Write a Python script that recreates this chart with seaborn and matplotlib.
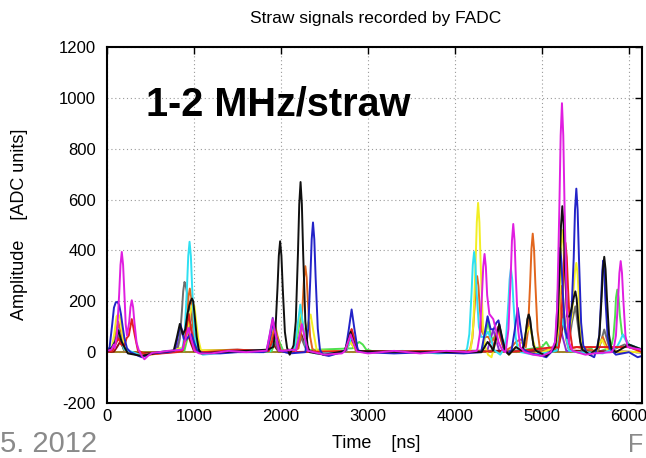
import matplotlib
matplotlib.use("Agg")
import matplotlib.pyplot as plt
import pandas as pd
import seaborn as sns

# ---------------- data (time [ns], amplitude [ADC units]) ----------------
magenta = [(0, 5), (50, 10), (80, 30), (90, 16), (115, 71), (140, 229), (155, 343), (170, 394), (185, 343),
           (200, 229), (215, 110), (230, 65), (255, 118), (270, 177), (285, 204), (300, 177), (315, 118),
           (340, 37), (365, 8), (400, -15), (430, -28), (470, -15), (520, -3), (600, 0), (700, 5), (820, 8),
           (870, 10), (900, 48), (935, 95), (970, 48), (1005, 5), (1060, -5), (1200, -5), (1400, 5), (1600, 0),
           (1800, 5), (1835, 6), (1870, 64), (1905, 128), (1940, 64), (1975, 6), (2020, 5), (2150, 10),
           (2170, 5), (2205, 55), (2240, 110), (2275, 55), (2310, 5), (2500, -10), (2700, -5), (2730, 3),
           (2765, 35), (2800, 70), (2835, 35), (2870, 3), (3000, -5), (3300, 5), (3600, -5), (3900, 5),
           (4150, 0), (4250, 5), (4260, 15), (4285, 70), (4310, 224), (4325, 336), (4340, 386), (4355, 336),
           (4370, 224), (4395, 150), (4440, 130), (4470, 90), (4500, 40), (4540, 10), (4580, 0), (4590, 20),
           (4615, 91), (4640, 292), (4655, 438), (4670, 504), (4685, 438), (4700, 292), (4725, 91), (4750, 20),
           (4800, 0), (4900, -10), (5000, -15), (5100, 0), (5150, 39), (5175, 176), (5200, 568), (5215, 852),
           (5230, 979), (5245, 852), (5260, 568), (5285, 176), (5310, 39), (5350, 5), (5400, 0), (5500, -10),
           (5600, -5), (5800, 0), (5825, 14), (5850, 64), (5875, 208), (5890, 311), (5905, 358), (5920, 311),
           (5935, 208), (5960, 64), (5985, 20), (6050, 15), (6150, 10)]
blue = [(0, 0), (30, 20), (60, 110), (80, 175), (100, 195), (120, 198), (140, 185), (160, 150), (180, 100),
        (200, 55), (230, 15), (270, 0), (330, -10), (400, -20), (460, -12), (520, -5), (700, 0), (775, 5),
        (810, 55), (845, 110), (880, 55), (900, 45), (935, 60), (970, 70), (1005, 35), (1040, 4), (1100, -3),
        (1300, -5), (1500, 0), (1800, 0), (1840, 6), (1875, 60), (1910, 120), (1945, 60), (1980, 6), (2100, -5),
        (2280, 0), (2288, 20), (2313, 92), (2338, 296), (2353, 444), (2368, 510), (2383, 444), (2398, 296),
        (2423, 92), (2448, 10), (2480, -10), (2550, -15), (2650, -5), (2742, 8), (2777, 84), (2812, 168),
        (2847, 84), (2882, 8), (2950, 0), (3300, -5), (3700, 0), (4100, -5), (4300, 0), (4305, 7), (4340, 70),
        (4375, 141), (4410, 90), (4445, 90), (4475, 115), (4500, 125), (4535, 62), (4570, 6), (4610, -5),
        (4652, 9), (4687, 87), (4722, 174), (4757, 87), (4792, 9), (4870, -5), (4950, -10), (5050, -20),
        (5120, 5), (5140, 20), (5160, 60), (5180, 210), (5195, 350), (5210, 410), (5225, 350), (5240, 230),
        (5265, 90), (5290, 55), (5315, 100), (5340, 160), (5365, 370), (5380, 560), (5395, 643), (5410, 560),
        (5425, 373), (5450, 116), (5475, 26), (5520, -5), (5600, -20), (5634, 18), (5659, 66), (5679, 200),
        (5694, 320), (5704, 360), (5714, 340), (5729, 211), (5754, 66), (5779, 15), (5850, -10), (6000, 0),
        (6100, -20), (6150, -15)]
cyan = [(0, 0), (60, 20), (95, 45), (130, 90), (165, 45), (200, 10), (300, 0), (400, -15), (600, 0), (850, 10),
        (869, 17), (894, 78), (919, 252), (934, 378), (949, 434), (964, 378), (979, 252), (1004, 78),
        (1029, 17), (1100, -10), (1400, 0), (1700, 5), (1870, 3), (1905, 30), (1940, 60), (1975, 30),
        (2010, 3), (2150, 10), (2152, 8), (2187, 94), (2222, 187), (2257, 94), (2292, 8), (2400, -5),
        (2742, 3), (2777, 30), (2812, 60), (2847, 30), (2882, 3), (2950, 0), (3400, 5), (3800, -5), (4120, 0),
        (4140, 16), (4165, 71), (4190, 229), (4205, 343), (4220, 394), (4235, 343), (4250, 229), (4275, 100),
        (4300, 60), (4340, 60), (4380, 80), (4415, 50), (4450, 8), (4520, -10), (4563, 13), (4588, 59),
        (4613, 191), (4628, 286), (4643, 329), (4658, 286), (4673, 191), (4698, 59), (4723, 13), (4760, 0),
        (4900, -10), (5100, 0), (5170, 6), (5205, 65), (5240, 130), (5275, 65), (5310, 6), (5400, 0),
        (5700, -5), (5860, 20), (5900, 45), (5930, 70), (5965, 45), (6000, 30), (6150, 10)]
black = [(0, 0), (60, 20), (96, 43), (131, 86), (166, 43), (200, 20), (240, -5), (400, -15), (600, 0), (767, 6),
         (802, 56), (837, 111), (872, 70), (900, 90), (925, 150), (946, 183), (961, 200), (976, 211), (991, 200),
         (1006, 150), (1031, 60), (1056, 10), (1080, -5), (1300, 0), (1600, 5), (1850, 10), (1910, 20),
         (1935, 79), (1960, 253), (1975, 379), (1990, 436), (2005, 379), (2020, 253), (2045, 79), (2070, 17),
         (2100, -10), (2145, 27), (2170, 120), (2195, 388), (2210, 582), (2225, 669), (2240, 582), (2255, 388),
         (2280, 120), (2305, 27), (2330, 0), (2500, -10), (2730, 4), (2765, 40), (2800, 80), (2835, 40),
         (2870, 4), (3500, 0), (4200, 0), (4305, 0), (4340, 20), (4375, 40), (4410, 25), (4439, 6), (4474, 55),
         (4509, 110), (4544, 55), (4579, 6), (4620, -10), (4700, 20), (4768, 6), (4793, 27), (4818, 86),
         (4833, 129), (4848, 148), (4863, 129), (4878, 86), (4903, 27), (4928, 6), (4960, 0), (5050, -15),
         (5150, 20), (5154, 23), (5179, 103), (5204, 333), (5219, 499), (5234, 574), (5249, 499), (5264, 333),
         (5289, 140), (5314, 140), (5339, 170), (5369, 220), (5384, 239), (5399, 210), (5414, 139), (5439, 43),
         (5464, 10), (5550, -10), (5636, 15), (5661, 68), (5686, 218), (5701, 326), (5716, 375), (5731, 326),
         (5746, 218), (5771, 68), (5796, 15), (5850, 0), (6000, 30), (6150, 10)]
gray = [(0, 0), (60, 10), (95, 35), (130, 70), (165, 35), (200, 5), (240, 0), (400, -10), (700, 0), (811, 11),
        (836, 50), (861, 160), (876, 240), (891, 276), (906, 260), (921, 230), (946, 180), (966, 150),
        (1000, 80), (1030, 25), (1060, 0), (1400, 5), (1830, 4), (1865, 35), (1900, 70), (1935, 35), (1970, 4),
        (2160, 3), (2195, 30), (2230, 60), (2265, 30), (2300, 3), (2400, 0), (2730, 2), (2765, 20), (2800, 40),
        (2835, 20), (2870, 2), (4430, 5), (4465, 50), (4500, 100), (4535, 50), (4570, 5), (4768, 6), (4793, 27),
        (4818, 87), (4833, 130), (4848, 150), (4863, 130), (4878, 87), (4903, 27), (4928, 6), (5171, 7),
        (5206, 75), (5241, 150), (5276, 75), (5311, 40), (5346, 120), (5384, 180), (5419, 90), (5454, 9),
        (5500, 0), (5646, 5), (5681, 45), (5716, 89), (5751, 45), (5786, 5), (5950, 30), (6150, 10)]
orange = [(0, 0), (60, 10), (95, 60), (130, 120), (165, 60), (200, 6), (400, -10), (700, 0), (872, 10),
          (897, 45), (922, 145), (937, 218), (952, 250), (967, 218), (982, 145), (1007, 45), (1032, 10),
          (1080, 0), (1860, 5), (1895, 55), (1930, 110), (1965, 55), (2000, 5), (2200, 14), (2225, 61),
          (2250, 196), (2265, 294), (2280, 338), (2295, 294), (2310, 196), (2335, 61), (2360, 14), (2400, 0),
          (2742, 4), (2777, 45), (2812, 90), (2847, 45), (2882, 4), (4150, 0), (4175, 12), (4200, 54),
          (4225, 173), (4240, 260), (4255, 299), (4270, 260), (4285, 173), (4310, 80), (4345, 60), (4380, 60),
          (4420, 40), (4465, 60), (4500, 80), (4535, 40), (4570, 4), (4650, 20), (4700, 40), (4750, 50),
          (4790, 45), (4814, 19), (4839, 84), (4864, 270), (4879, 405), (4894, 466), (4909, 405), (4924, 270),
          (4949, 84), (4974, 19), (5000, 0), (5150, 20), (5155, 13), (5180, 47), (5205, 151), (5215, 226),
          (5225, 260), (5240, 226), (5255, 151), (5280, 47), (5305, 13), (5400, 20), (5630, 3), (5665, 30),
          (5700, 60), (5735, 30), (5770, 3), (6150, 0)]
yellow = [(0, 0), (50, 8), (85, 75), (110, 140), (130, 150), (150, 135), (175, 75), (210, 8), (400, -15),
          (700, 0), (880, 20), (920, 60), (955, 150), (975, 180), (990, 190), (1005, 180), (1025, 120),
          (1050, 50), (1080, 8), (1860, 4), (1895, 40), (1930, 80), (1965, 40), (2000, 4), (2152, 8), (2187, 85),
          (2222, 169), (2257, 90), (2285, 90), (2306, 110), (2341, 148), (2376, 74), (2411, 7), (2730, 2),
          (2765, 20), (2800, 40), (2835, 20), (2870, 2), (4165, 0), (4186, 23), (4211, 106), (4236, 340),
          (4251, 511), (4266, 587), (4281, 511), (4296, 340), (4321, 106), (4346, 23), (4380, -10), (4420, -20),
          (4439, 5), (4474, 50), (4509, 100), (4544, 50), (4579, 5), (4620, -10), (4700, 20), (4790, 45),
          (4825, 80), (4860, 100), (4895, 50), (4930, 5), (4950, -10), (5150, 20), (5160, 20), (5185, 86),
          (5210, 278), (5225, 418), (5240, 480), (5255, 418), (5270, 278), (5295, 110), (5320, 100), (5345, 140),
          (5365, 250), (5380, 320), (5395, 351), (5410, 305), (5425, 204), (5450, 63), (5475, 14), (5550, -10),
          (5620, 3), (5655, 25), (5690, 50), (5725, 25), (5760, 3), (6150, 0)]
green = [(0, 0), (55, 6), (90, 55), (125, 110), (160, 55), (195, 6), (400, -10), (700, 0), (890, 6), (925, 55),
         (960, 110), (990, 100), (1020, 50), (1050, 8), (1090, 0), (1890, 3), (1925, 30), (1960, 60), (1995, 30),
         (2030, 3), (2160, 8), (2195, 75), (2230, 150), (2265, 75), (2300, 8), (2820, 15), (2860, 30), (2900, 40),
         (2940, 30), (2980, 10), (3100, 0), (4310, 6), (4345, 60), (4380, 120), (4415, 60), (4440, 50),
         (4465, 70), (4500, 90), (4535, 45), (4570, 5), (4620, 0), (5000, 20), (5050, 40), (5100, 10),
         (5171, 8), (5206, 83), (5241, 165), (5276, 83), (5311, 8), (5400, 0), (5500, -5), (5560, 20),
         (5600, -5), (5760, 15), (5801, 30), (5821, 60), (5841, 143), (5851, 214), (5866, 246), (5881, 214),
         (5896, 143), (5921, 70), (5950, 60), (6000, 30), (6150, 10)]
red = [(0, 0), (60, 5), (95, 28), (130, 55), (165, 30), (200, 25), (225, 55), (250, 65), (285, 130), (320, 65),
       (355, 7), (450, -10), (800, 0), (870, 7), (905, 75), (940, 150), (975, 75), (1010, 7), (1100, 0),
       (1500, 8), (1860, 4), (1895, 40), (1930, 80), (1965, 40), (2000, 4), (2050, 0), (2742, 4), (2777, 45),
       (2812, 90), (2847, 45), (2882, 4), (4430, 3), (4465, 50), (4500, 100), (4535, 50), (4570, 5), (4620, 0),
       (5150, 20), (5190, 17), (5215, 77), (5240, 249), (5255, 374), (5270, 430), (5285, 374), (5300, 249),
       (5325, 77), (5350, 17), (5400, 20), (5700, 20), (5900, 20), (6000, 20), (6150, 0)]
purple = [(0, 0), (60, 5), (95, 50), (130, 100), (165, 50), (200, 5), (400, -10), (750, 0), (790, 5), (825, 45),
          (860, 90), (895, 50), (925, 70), (960, 100), (995, 50), (1030, 5), (1835, 7), (1870, 68), (1905, 135),
          (1940, 68), (1975, 7), (2170, 3), (2205, 30), (2240, 60), (2275, 30), (2310, 3), (2750, 4), (2785, 38),
          (2820, 75), (2855, 38), (2890, 4), (4370, 4), (4405, 45), (4440, 90), (4475, 45), (4510, 4), (5140, 5),
          (5175, 50), (5210, 100), (5245, 50), (5280, 5), (6150, 0)]
darkred = [(0, 0), (80, 2), (115, 20), (150, 40), (185, 20), (220, 2), (400, -5), (860, 4), (895, 35), (930, 70),
           (965, 35), (1000, 4), (1500, 10), (1830, 3), (1865, 20), (1900, 40), (1935, 20), (1970, 3), (2163, 4),
           (2198, 36), (2233, 71), (2268, 36), (2303, 4), (2730, 3), (2765, 30), (2800, 60), (2835, 30),
           (2870, 3), (5180, 6), (5215, 60), (5250, 120), (5285, 60), (5320, 6), (6150, 0)]

traces = {"green": green, "purple": purple, "darkred": darkred, "gray": gray, "orange": orange,
          "yellow": yellow, "cyan": cyan, "red": red, "blue": blue, "black": black, "magenta": magenta}
palette = {"magenta": "#e01ee0", "blue": "#2323c8", "cyan": "#2ee0f2", "black": "#101010", "gray": "#6e6e6e",
           "orange": "#e2661e", "yellow": "#f2ee24", "green": "#4ee04e", "red": "#e41e1e", "purple": "#8a2ed0",
           "darkred": "#8f1010"}

x_ticks = [0, 1000, 2000, 3000, 4000, 5000, 6000]
y_ticks = [-200, 0, 200, 400, 600, 800, 1000, 1200]

rows = []
for name, pts in traces.items():
    for i, (t, a) in enumerate(pts):
        rows.append((name, i, t, a))
df = pd.DataFrame(rows, columns=["trace", "idx", "time", "amp"])

# ---------------- figure ----------------
sns.set_theme(style="white")
plt.rcParams["font.family"] = ["Liberation Sans", "DejaVu Sans"]
plt.rcParams["text.color"] = "black"

W, H = 646, 458
fig = plt.figure(figsize=(W / 100, H / 100), dpi=100)
ax = fig.add_axes([107 / W, 1 - 403 / H, 535 / W, 356 / H])

ax.axhline(0, color="#a08428", lw=1.4, zorder=1)
sns.lineplot(data=df, x="time", y="amp", hue="trace", palette=palette, hue_order=list(traces.keys()),
             estimator=None, sort=False, units="trace", lw=1.4, legend=False, ax=ax)

ax.set_xlim(0, 6150)
ax.set_ylim(-200, 1200)
ax.set_xticks(x_ticks)
ax.set_yticks(y_ticks)
ax.set_xticklabels([str(v) for v in x_ticks])
ax.set_yticklabels([str(v) for v in y_ticks])
ax.tick_params(direction="in", top=True, right=True, length=5, width=1, labelsize=12, colors="black")
ax.tick_params(axis="y", pad=8)
ax.tick_params(axis="x", pad=4)
ax.grid(True, linestyle=(0, (1, 2.5)), color="#9a9a9a", lw=0.8)
for s in ax.spines.values():
    s.set_color("black")
    s.set_linewidth(1.5)
ax.set_xlabel("")
ax.set_ylabel("")

fig.text(376 / W, 1 - 18 / H, "Straw signals recorded by FADC", ha="center", va="center", fontsize=12.5)
fig.text(146 / W, 1 - 104 / H, "1-2 MHz/straw", ha="left", va="center", fontsize=28.5, fontweight="bold")
fig.text(376 / W, 1 - 443 / H, "Time    [ns]", ha="center", va="center", fontsize=13)
fig.text(20 / W, 1 - 224 / H, "Amplitude    [ADC units]", ha="center", va="center", rotation=90, fontsize=13)
fig.text(0, 1 - 452 / H, "5. 2012", ha="left", va="baseline", fontsize=21, color="#8a8a8a")
fig.text(628 / W, 1 - 452 / H, "F", ha="left", va="baseline", fontsize=18, color="#8a8a8a")

fig.savefig("out.png", dpi=100)
